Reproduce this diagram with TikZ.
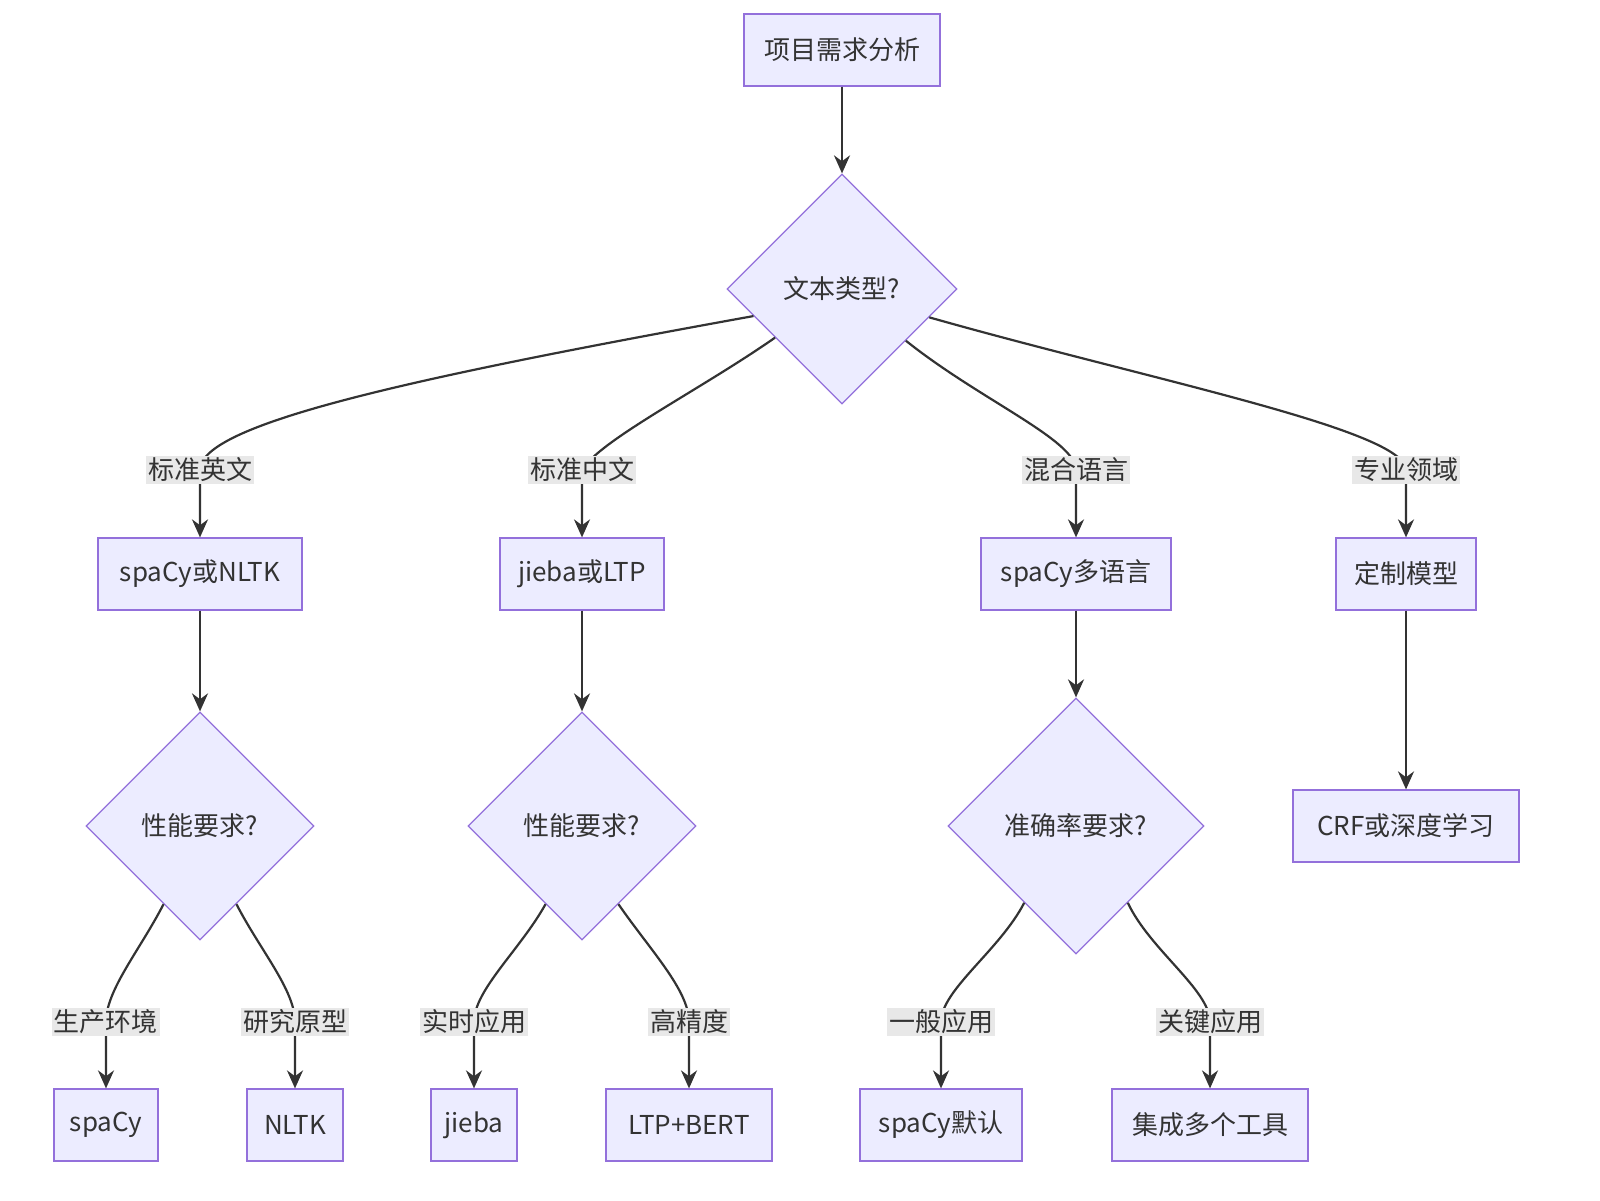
\documentclass[tikz,border=0pt]{standalone}
\usepackage{fontspec}
\setmainfont{Noto Sans CJK SC}
\usetikzlibrary{shapes.geometric,arrows.meta}
\definecolor{nodefill}{HTML}{ECECFF}
\definecolor{nodeline}{HTML}{9370DB}
\definecolor{edge}{HTML}{333333}
\definecolor{lblfill}{HTML}{E8E8E8}
\begin{document}
\begin{tikzpicture}[x=0.5pt,y=0.5pt,
  font=\fontsize{13}{15}\selectfont, text=edge,
  box/.style={draw=nodeline,fill=nodefill,line width=0.6pt,minimum height=36pt,inner xsep=6pt},
  dia/.style={diamond,draw=nodeline,fill=nodefill,line width=0.6pt,minimum size=#1,inner sep=0pt},
  lbl/.style={fill=lblfill,inner sep=1pt},
  arr/.style={draw=edge,line width=1.1pt,-{Stealth[length=9pt,width=8pt]}}]
\useasboundingbox (0,0) rectangle (1600,1200);
\node[box,minimum width=98pt] (A) at (842,1150) {项目需求分析};
\node[dia=115pt] (B) at (842,911) {文本类型?};
\node[box,minimum width=102pt] (C1) at (200,626) {spaCy或NLTK};
\node[box,minimum width=82pt] (C2) at (582,626) {jieba或LTP};
\node[box,minimum width=95pt] (C3) at (1076,626) {spaCy多语言};
\node[box,minimum width=70pt] (C4) at (1406,626) {定制模型};
\node[dia=114pt] (D1) at (200,374) {性能要求?};
\node[dia=114pt] (D2) at (582,374) {性能要求?};
\node[dia=128pt] (D3) at (1076,374) {准确率要求?};
\node[box,minimum width=113pt] (E4) at (1406,374) {CRF或深度学习};
\node[box,minimum width=52pt] (F1) at (106,75) {spaCy};
\node[box,minimum width=48pt] (F2) at (295,75) {NLTK};
\node[box,minimum width=43pt] (F3) at (474,75) {jieba};
\node[box,minimum width=83pt] (F4) at (689,75) {LTP+BERT};
\node[box,minimum width=81pt] (F5) at (941,75) {spaCy默认};
\node[box,minimum width=98pt] (F6) at (1210,75) {集成多个工具};
\coordinate (L1) at (200,730);
\coordinate (L2) at (582,730);
\coordinate (L3) at (1076,730);
\coordinate (L4) at (1406,730);
\coordinate (M1) at (106,178);
\coordinate (M2) at (295,178);
\coordinate (M3) at (474,178);
\coordinate (M4) at (689,178);
\coordinate (M5) at (941,178);
\coordinate (M6) at (1210,178);
\draw[arr] (A) -- (B);
\draw[arr] (B.197) .. controls (400,820) and (200,775) .. (L1) to[out=-90,in=90] (C1.north);
\draw[arr] (B.216) .. controls (700,810) and (600,760) .. (L2) to[out=-90,in=90] (C2.north);
\draw[arr] (B.321) .. controls (980,800) and (1076,760) .. (L3) to[out=-90,in=90] (C3.north);
\draw[arr] (B.342) .. controls (1150,820) and (1406,770) .. (L4) to[out=-90,in=90] (C4.north);
\draw[arr] (C1) -- (D1);
\draw[arr] (C2) -- (D2);
\draw[arr] (C3) -- (D3);
\draw[arr] (C4) -- (E4);
\draw[arr] (D1.245) .. controls (140,250) and (106,210) .. (M1) to[out=-90,in=90] (F1.north);
\draw[arr] (D1.295) .. controls (260,250) and (295,210) .. (M2) to[out=-90,in=90] (F2.north);
\draw[arr] (D2.245) .. controls (520,250) and (474,210) .. (M3) to[out=-90,in=90] (F3.north);
\draw[arr] (D2.295) .. controls (650,250) and (689,210) .. (M4) to[out=-90,in=90] (F4.north);
\draw[arr] (D3.236) .. controls (1000,250) and (941,210) .. (M5) to[out=-90,in=90] (F5.north);
\draw[arr] (D3.304) .. controls (1150,250) and (1210,210) .. (M6) to[out=-90,in=90] (F6.north);
\node[lbl] at (L1) {标准英文};
\node[lbl] at (L2) {标准中文};
\node[lbl] at (L3) {混合语言};
\node[lbl] at (L4) {专业领域};
\node[lbl] at (M1) {生产环境};
\node[lbl] at (M2) {研究原型};
\node[lbl] at (M3) {实时应用};
\node[lbl] at (M4) {高精度};
\node[lbl] at (M5) {一般应用};
\node[lbl] at (M6) {关键应用};
\end{tikzpicture}
\end{document}
